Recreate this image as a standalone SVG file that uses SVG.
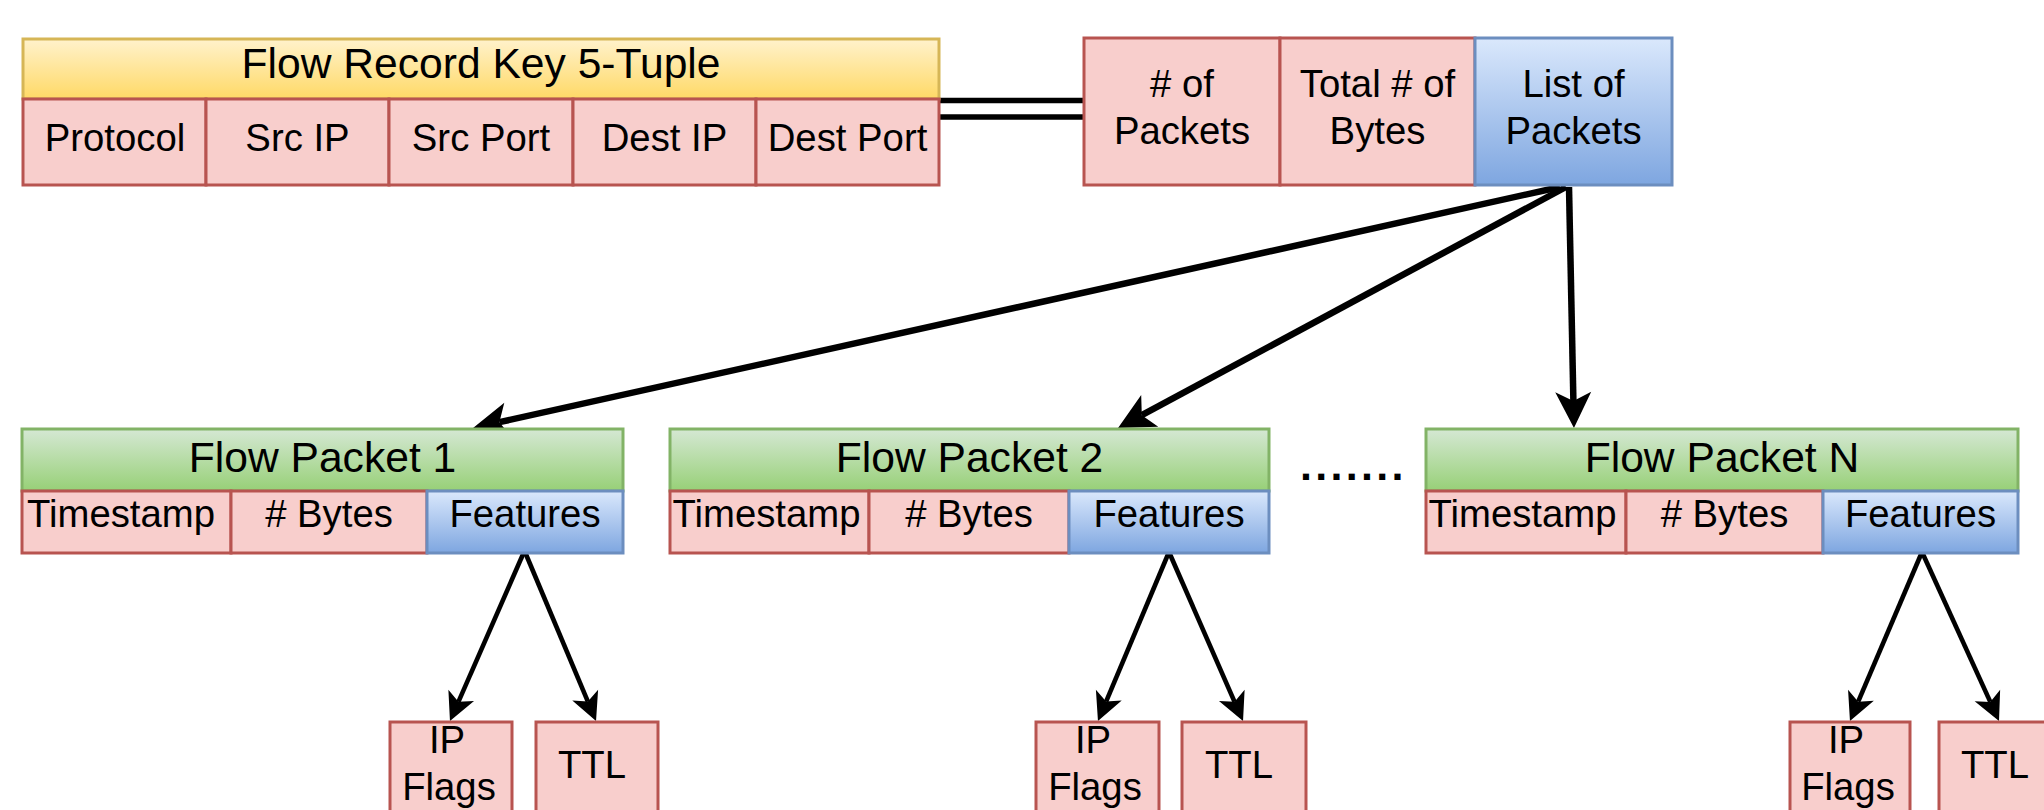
<svg xmlns="http://www.w3.org/2000/svg" width="2044" height="810" viewBox="0 0 2044 810">
<style>
text{font-family:"Liberation Sans",Arial,Helvetica,sans-serif;fill:#000;text-anchor:middle}
.h{font-size:42.6px}
.t{font-size:38.3px}
.pink{fill:#f8cecc;stroke:#b85450;stroke-width:3}
.blue{fill:url(#gBlue);stroke:#6c8ebf;stroke-width:3}
.green{fill:url(#gGreen);stroke:#82b366;stroke-width:3}
.yellow{fill:url(#gYellow);stroke:#d6b656;stroke-width:3}
.big{fill:none;stroke:#000;stroke-width:6.5;marker-end:url(#arrBig)}
.small{fill:none;stroke:#000;stroke-width:4.6;marker-end:url(#arrSmall)}
.link{fill:none;stroke:#000;stroke-width:5.5}
.dots{font-size:43px;font-weight:bold;text-anchor:start;letter-spacing:3.3px}
</style>
<defs>
<linearGradient id="gYellow" x1="0" y1="0" x2="0" y2="1"><stop offset="0" stop-color="#fff2cc"/><stop offset="1" stop-color="#ffd966"/></linearGradient>
<linearGradient id="gGreen" x1="0" y1="0" x2="0" y2="1"><stop offset="0" stop-color="#d5e8d4"/><stop offset="1" stop-color="#97d077"/></linearGradient>
<linearGradient id="gBlue" x1="0" y1="0" x2="0" y2="1"><stop offset="0" stop-color="#dae8fc"/><stop offset="1" stop-color="#7ea6e0"/></linearGradient>
<marker id="arrBig" markerUnits="userSpaceOnUse" viewBox="-10 -20 40 40" markerWidth="40" markerHeight="40" refX="0" refY="0" orient="auto"><path d="M27,0 L-9,-18 L0,0 L-9,18 Z" fill="#000"/></marker>
<marker id="arrSmall" markerUnits="userSpaceOnUse" viewBox="-8 -16 32 32" markerWidth="32" markerHeight="32" refX="0" refY="0" orient="auto"><path d="M21,0 L-7,-14 L0,0 L-7,14 Z" fill="#000"/></marker>
</defs>

<g id="connectors">
<line class="link" x1="939" y1="100.5" x2="1084" y2="100.5"/>
<line class="link" x1="939" y1="117" x2="1084" y2="117"/>
<line class="big" x1="1560" y1="187" x2="499.4" y2="422.2"/>
<line class="big" x1="1566" y1="187" x2="1141.8" y2="415.2"/>
<line class="big" x1="1569" y1="187" x2="1573.4" y2="401"/>
<line class="small" x1="524" y1="552" x2="458.4" y2="701.8"/>
<line class="small" x1="525" y1="552" x2="587.9" y2="701.6"/>
<line class="small" x1="1169" y1="552" x2="1106.1" y2="701.6"/>
<line class="small" x1="1169" y1="552" x2="1234.6" y2="701.8"/>
<line class="small" x1="1922" y1="552" x2="1858.2" y2="701.7"/>
<line class="small" x1="1922" y1="552" x2="1990.3" y2="701.9"/>
</g>

<g id="flowRecordKey">
<rect class="yellow" x="23" y="39" width="916" height="60"/>
<text class="h" x="481" y="78">Flow Record Key 5-Tuple</text>
<rect class="pink" x="23" y="99" width="183" height="86"/>
<rect class="pink" x="206" y="99" width="183" height="86"/>
<rect class="pink" x="389" y="99" width="184" height="86"/>
<rect class="pink" x="573" y="99" width="183" height="86"/>
<rect class="pink" x="756" y="99" width="183" height="86"/>
<text class="t" x="115" y="151">Protocol</text>
<text class="t" x="297.5" y="151">Src IP</text>
<text class="t" x="481" y="151">Src Port</text>
<text class="t" x="664.5" y="151">Dest IP</text>
<text class="t" x="847.5" y="151">Dest Port</text>
</g>

<g id="flowStats">
<rect class="pink" x="1084" y="38" width="196" height="147"/>
<rect class="pink" x="1280" y="38" width="195" height="147"/>
<rect class="blue" x="1475" y="38" width="197" height="147"/>
<text class="t" x="1182" y="97"># of</text>
<text class="t" x="1182" y="143.5">Packets</text>
<text class="t" x="1377.5" y="97">Total # of</text>
<text class="t" x="1377.5" y="143.5">Bytes</text>
<text class="t" x="1573.5" y="97">List of</text>
<text class="t" x="1573.5" y="143.5">Packets</text>
</g>

<g id="flowPacket1">
<rect class="green" x="22" y="429" width="601" height="62"/>
<text class="h" x="322.5" y="472">Flow Packet 1</text>
<rect class="pink" x="22" y="491" width="209" height="62"/>
<rect class="pink" x="231" y="491" width="196" height="62"/>
<rect class="blue" x="427" y="491" width="196" height="62"/>
<text class="t" x="121" y="527">Timestamp</text>
<text class="t" x="329" y="527"># Bytes</text>
<text class="t" x="525" y="527">Features</text>
</g>

<g id="flowPacket2">
<rect class="green" x="670" y="429" width="599" height="62"/>
<text class="h" x="969.5" y="472">Flow Packet 2</text>
<rect class="pink" x="670" y="491" width="199" height="62"/>
<rect class="pink" x="869" y="491" width="200" height="62"/>
<rect class="blue" x="1069" y="491" width="200" height="62"/>
<text class="t" x="766.5" y="527">Timestamp</text>
<text class="t" x="969" y="527"># Bytes</text>
<text class="t" x="1169" y="527">Features</text>
</g>

<g id="dots">
<text class="dots" x="1300" y="480">.......</text>
</g>

<g id="flowPacketN">
<rect class="green" x="1426" y="429" width="592" height="62"/>
<text class="h" x="1722" y="472">Flow Packet N</text>
<rect class="pink" x="1426" y="491" width="200" height="62"/>
<rect class="pink" x="1626" y="491" width="197" height="62"/>
<rect class="blue" x="1823" y="491" width="195" height="62"/>
<text class="t" x="1522.5" y="527">Timestamp</text>
<text class="t" x="1724.5" y="527"># Bytes</text>
<text class="t" x="1920.5" y="527">Features</text>
</g>

<g id="ipFlags1">
<rect class="pink" x="390" y="722" width="122" height="100"/>
<text class="t" x="447" y="753">IP</text>
<text class="t" x="449" y="800">Flags</text>
</g>
<g id="ttl1">
<rect class="pink" x="536" y="722" width="122" height="100"/>
<text class="t" x="592" y="778">TTL</text>
</g>
<g id="ipFlags2">
<rect class="pink" x="1036" y="722" width="123" height="100"/>
<text class="t" x="1093" y="753">IP</text>
<text class="t" x="1095" y="800">Flags</text>
</g>
<g id="ttl2">
<rect class="pink" x="1182" y="722" width="124" height="100"/>
<text class="t" x="1239" y="778">TTL</text>
</g>
<g id="ipFlagsN">
<rect class="pink" x="1790" y="722" width="120" height="100"/>
<text class="t" x="1846" y="753">IP</text>
<text class="t" x="1848" y="800">Flags</text>
</g>
<g id="ttlN">
<rect class="pink" x="1939" y="722" width="122" height="100"/>
<text class="t" x="1995" y="778">TTL</text>
</g>
</svg>
